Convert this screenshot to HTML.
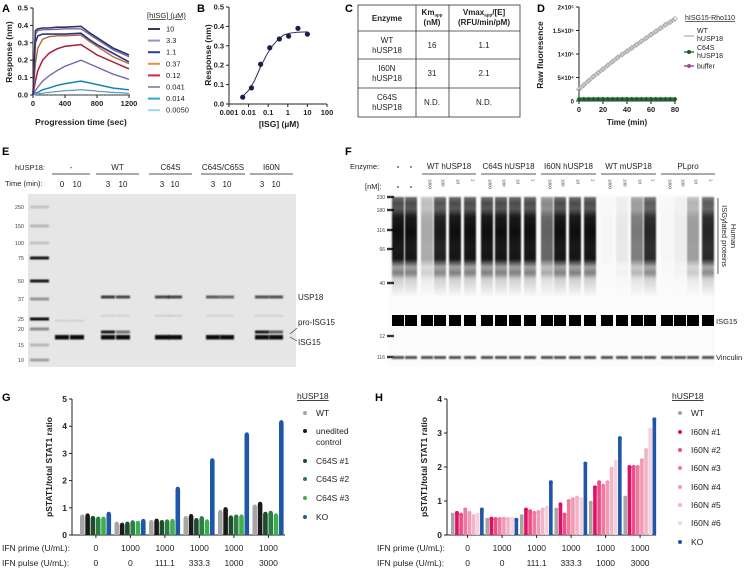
<!DOCTYPE html>
<html><head><meta charset="utf-8">
<style>
html,body{margin:0;padding:0;background:#fff;}
svg{display:block;font-family:"Liberation Sans",Arial,sans-serif;}
.t{font-size:7.5px;fill:#222;}
.b{font-weight:bold;}
.pl{font-size:11px;font-weight:bold;fill:#000;}
</style></head>
<body>
<svg id="fig" width="749" height="569" viewBox="0 0 749 569" xmlns="http://www.w3.org/2000/svg">
<defs>
<filter id="blur" x="-20%" y="-50%" width="140%" height="200%"><feGaussianBlur stdDeviation="0.8"/></filter>
<linearGradient id="smear" x1="0" y1="0" x2="0" y2="1">
<stop offset="0" stop-color="#000" stop-opacity="0.55"/>
<stop offset="0.06" stop-color="#000" stop-opacity="0.7"/>
<stop offset="0.12" stop-color="#000" stop-opacity="0.65"/>
<stop offset="0.2" stop-color="#000" stop-opacity="0.9"/>
<stop offset="0.35" stop-color="#000" stop-opacity="0.95"/>
<stop offset="0.5" stop-color="#000" stop-opacity="0.9"/>
<stop offset="0.62" stop-color="#000" stop-opacity="0.92"/>
<stop offset="0.7" stop-color="#000" stop-opacity="0.35"/>
<stop offset="0.76" stop-color="#000" stop-opacity="0.5"/>
<stop offset="0.82" stop-color="#000" stop-opacity="0.18"/>
<stop offset="1" stop-color="#000" stop-opacity="0.0"/>
</linearGradient>
</defs>

<text class="pl" x="2" y="12">A</text>
<text class="pl" x="197" y="12">B</text>
<text class="pl" x="345" y="12">C</text>
<text class="pl" x="537" y="12">D</text>
<text class="pl" x="2" y="155">E</text>
<text class="pl" x="345" y="155">F</text>
<text class="pl" x="2" y="401">G</text>
<text class="pl" x="375" y="401">H</text>

<g id="panelA"></g>
<g id="panelB"></g>

<g font-size="8">
<rect x="358" y="5" width="162" height="112" fill="none" stroke="#333" stroke-width="0.8"/>
<line x1="416" y1="5" x2="416" y2="117" stroke="#333" stroke-width="0.8"/>
<line x1="449" y1="5" x2="449" y2="117" stroke="#333" stroke-width="0.8"/>
<line x1="358" y1="31" x2="520" y2="31" stroke="#333" stroke-width="0.8"/>
<line x1="358" y1="59" x2="520" y2="59" stroke="#333" stroke-width="0.8"/>
<line x1="358" y1="88" x2="520" y2="88" stroke="#333" stroke-width="0.8"/>
<text x="387" y="21" text-anchor="middle" class="b" fill="#222">Enzyme</text>
<text x="432" y="15" text-anchor="middle" class="b" fill="#222">Km<tspan font-size="4.5" dy="1.5">app</tspan></text>
<text x="432" y="25" text-anchor="middle" class="b" fill="#222">(nM)</text>
<text x="484" y="15" text-anchor="middle" class="b" fill="#222">Vmax<tspan font-size="4.5" dy="1.5">app</tspan><tspan dy="-1.5">/[E]</tspan></text>
<text x="484" y="25" text-anchor="middle" class="b" fill="#222">(RFU/min/pM)</text>
<text x="387" y="43" text-anchor="middle" fill="#222">WT</text><text x="387" y="53" text-anchor="middle" fill="#222">hUSP18</text>
<text x="432" y="48" text-anchor="middle" fill="#222">16</text><text x="484" y="48" text-anchor="middle" fill="#222">1.1</text>
<text x="387" y="71" text-anchor="middle" fill="#222">I60N</text><text x="387" y="81" text-anchor="middle" fill="#222">hUSP18</text>
<text x="432" y="76" text-anchor="middle" fill="#222">31</text><text x="484" y="76" text-anchor="middle" fill="#222">2.1</text>
<text x="387" y="100" text-anchor="middle" fill="#222">C64S</text><text x="387" y="110" text-anchor="middle" fill="#222">hUSP18</text>
<text x="432" y="105" text-anchor="middle" fill="#222">N.D.</text><text x="484" y="105" text-anchor="middle" fill="#222">N.D.</text>
</g>

<g id="panelD"></g>

<g id="panelE">
<text class="t" x="15" y="170" font-size="8">hUSP18:</text>
<text class="t" x="5" y="186" font-size="8">Time (min):</text>
<rect x="28" y="194" width="268" height="173" fill="#e6e6e6"/>
</g>

<g id="panelF">
<text class="t" x="350" y="169" font-size="8">Enzyme:</text>
<text class="t" x="365" y="189" font-size="8">[nM]:</text>
<rect x="388" y="195" width="327" height="171" fill="#fbfbfb"/>
</g>

<g id="panelG"></g>
<g id="panelH"></g>
</svg>

<script>
var aTimes = [0,30,60,120,200,300,400,600,700,800,1000,1200];
var aConcLabels = ["10","3.3","1.1","0.37","0.12","0.041","0.014","0.0050"];
var aColors = ["#3b3566","#9a8fc8","#2b3f8f","#f08a4b","#d7263d","#a58cc4","#2aa7d8","#9fd6e8"];
var aS10 = [0,0.37,0.38,0.385,0.385,0.39,0.39,0.395,0.36,0.33,0.27,0.23];
var aS33 = [0,0.35,0.37,0.375,0.375,0.378,0.38,0.38,0.35,0.32,0.26,0.22];
var aS11 = [0,0.3,0.34,0.35,0.35,0.35,0.35,0.355,0.32,0.29,0.24,0.19];
var aS037 = [0,0.18,0.27,0.32,0.335,0.34,0.34,0.345,0.31,0.28,0.22,0.18];
var aS012 = [0,0.08,0.14,0.2,0.24,0.265,0.28,0.29,0.26,0.23,0.19,0.15];
var aS0041 = [0,0.025,0.045,0.08,0.11,0.14,0.165,0.2,0.18,0.16,0.12,0.09];
var aS0014 = [0,0.01,0.015,0.03,0.04,0.055,0.065,0.08,0.07,0.06,0.04,0.03];
var aS0005 = [0,0.003,0.006,0.01,0.015,0.02,0.025,0.03,0.027,0.022,0.015,0.01];
var aYTicks = [0,0.1,0.2,0.3,0.4,0.5];
var aXTicks = [0,400,800,1200];

var bConc = [0.005,0.014,0.041,0.12,0.37,1.1,3.3,10];
var bResp = [0.035,0.083,0.205,0.29,0.335,0.35,0.39,0.36];
var bFitX = [0.004,0.01,0.02,0.04,0.08,0.15,0.3,0.6,1.2,3,10];
var bFitY = [0.03,0.07,0.12,0.19,0.25,0.295,0.33,0.355,0.365,0.37,0.372];
var bXTicks = [0.001,0.01,0.1,1,10,100];
var bXTickLabels = ["0.001","0.01","0.1","1","10","100"];
var bYTicks = [0,0.1,0.2,0.3,0.4,0.5];

var dTimes = [0,4,8,12,16,20,24,28,32,36,40,44,48,52,56,60,64,68,72,76,80];
var dWT = [25000,34000,43000,52000,60000,68000,76000,84000,92000,99000,106000,113000,120000,127000,134000,141000,148000,155000,162000,168000,175000];
var dC64S = [4000,4000,4000,4000,4000,4000,4000,4000,4000,4000,4000,4000,4000,4000,4000,4000,4000,4000,4000,4000,4000];
var dBuffer = [3500,3500,3500,3500,3500,3500,3500,3500,3500,3500,3500,3500,3500,3500,3500,3500,3500,3500,3500,3500,3500];
var dYTicks = [0,50000,100000,150000,200000];
var dYTickLabels = ["0","5×10⁴","1×10⁵","1.5×10⁵","2×10⁵"];
var dXTicks = [0,20,40,60,80];

var gGroupsPrime = ["0","1000","1000","1000","1000","1000"];
var gGroupsPulse = ["0","0","111.1","333.3","1000","3000"];
var gSeriesNames = ["WT","unedited control","C64S #1","C64S #2","C64S #3","KO"];
var gColors = ["#a6a6a6","#1a1a1a","#1e4d2b","#2f7d46","#3db04d","#1f56a8"];
var gWT = [0.68,0.42,0.48,0.62,0.85,1.05];
var gUnedited = [0.72,0.38,0.53,0.7,0.95,1.15];
var gC1 = [0.63,0.42,0.48,0.55,0.65,0.78];
var gC2 = [0.6,0.47,0.5,0.62,0.68,0.82];
var gC3 = [0.6,0.45,0.52,0.5,0.68,0.72];
var gKO = [0.78,0.52,1.7,2.75,3.7,4.15];
var gYTicks = [0,1,2,3,4,5];

var hSeriesNames = ["WT","I60N #1","I60N #2","I60N #3","I60N #4","I60N #5","I60N #6","KO"];
var hColors = ["#a6a6a6","#e0106a","#ec4f86","#f07a9e","#f29ab5","#f2b5c8","#f5d3de","#1f56a8"];
var hWT = [0.6,0.45,0.55,0.75,0.95,1.1];
var h1 = [0.65,0.48,0.75,0.9,1.4,2.0];
var h2 = [0.6,0.47,0.7,0.6,1.55,2.0];
var h3 = [0.75,0.47,0.65,1.0,1.45,2.0];
var h4 = [0.65,0.48,0.68,1.05,1.55,2.2];
var h5 = [0.55,0.47,0.75,1.1,1.95,2.5];
var h6 = [0.6,0.48,0.8,1.05,2.15,3.1];
var hKO = [0.75,0.45,1.55,2.1,2.85,3.4];
var hYTicks = [0,1,2,3,4];

var eMarkers = ["250","150","100","75","50","37","25","20","15","10"];
var eMarkerY = [207,226,243,258,281,299,319,329,345,360];
var eMarkerDark = [0.15,0.2,0.15,0.9,0.9,0.35,0.95,0.4,0.2,0.3];
var eGroups = ["-","WT","C64S","C64S/C65S","I60N"];
var eTimes = ["0","10","3","10","3","10","3","10","3","10"];
var eUSP18 = [0,0,0.75,0.7,0.7,0.7,0.6,0.55,0.65,0.65];
var eISG15 = [0.95,0.95,0.95,0.95,0.95,0.95,0.95,0.95,0.95,0.95];
var ePro = [0,0,0.9,0.5,0,0,0,0,0.9,0.6];

var fGroups = ["WT hUSP18","C64S hUSP18","I60N hUSP18","WT mUSP18","PLpro"];
var fConcLabels = ["-","-","1000","100","10","1","1000","100","10","1","1000","100","10","1","1000","100","10","1","1000","100","10","1"];
var fSmear = [1,1,0.35,0.95,1,1,1,1,1,1,0.65,1,1,1,0.02,0.08,0.55,0.9,0.02,0.06,0.4,0.9];
var fMarkers = ["230","180","116","66","40","12","116"];
var fMarkerY = [197,210,230,249,283,336,357];

var NS = "http://www.w3.org/2000/svg";
function mk(tag, attrs, parent){ var e=document.createElementNS(NS,tag); for(var k in attrs) e.setAttribute(k,attrs[k]); parent.appendChild(e); return e; }
function txt(parent, x, y, s, size, anchor, extra){ var e=mk("text",{x:x,y:y,"font-size":size,"text-anchor":anchor||"start",fill:"#222"},parent); e.textContent=s; if(extra){for(var k in extra) e.setAttribute(k,extra[k]);} return e; }

(function(){
  var g=document.getElementById("panelA");
  function ax(t){return 33+t*96/1200;} function ay(v){return 95-v*174;}
  var l=mk("line",{x1:33,y1:ay(0.5),x2:33,y2:95,stroke:"#222","stroke-width":1},g);
   
  var l2=mk("line",{x1:33,y1:95,x2:130,y2:95,stroke:"#222","stroke-width":1},g);
   
  aYTicks.forEach(function(v){ mk("line",{x1:30,y1:ay(v),x2:33,y2:ay(v),stroke:"#222"},g); var t=txt(g,28,ay(v)+2.5,v.toFixed(1),7.5,"end",{"font-weight":"bold"});  });
  aXTicks.forEach(function(v){ mk("line",{x1:ax(v),y1:95,x2:ax(v),y2:98,stroke:"#222"},g); var t=txt(g,ax(v),106,String(v),7.5,"middle",{"font-weight":"bold"});  });
  var xt=txt(g,81,125,"Progression time (sec)",8.5,"middle",{"font-weight":"bold"});  
  var yt=txt(g,0,0,"Response (nm)",8.5,"middle",{"font-weight":"bold",transform:"translate(12,52) rotate(-90)"});  
  var base=mk("line",{x1:33,y1:95,x2:129,y2:95,stroke:"#555","stroke-dasharray":"1,1.5"},g);
   
  var series=[aS10,aS33,aS11,aS037,aS012,aS0041,aS0014,aS0005];
  for(var i=series.length-1;i>=0;i--){
    var pts=aTimes.map(function(t,j){return ax(t)+","+ay(series[i][j]);}).join(" ");
    var p=mk("polyline",{points:pts,fill:"none",stroke:aColors[i],"stroke-width":1.6},g);
     
    var f=mk("polyline",{points:pts,fill:"none",stroke:"#1c2a5a","stroke-width":0.5,"stroke-opacity":0.7},g);
     
  }
  var lt=txt(g,147,18,"[hISG] (µM)",7.5,"start",{"text-decoration":"underline"});  
  aConcLabels.forEach(function(s,i){ var y=29+i*11.6;
    var sw=mk("line",{x1:148,y1:y,x2:160,y2:y,stroke:aColors[i],"stroke-width":2},g);  
    var t=txt(g,166,y+2.5,s,7.5,"start");  });
})();

(function(){
  var g=document.getElementById("panelB");
  function bx(v){return 229+(Math.log10(v)+3)*19.6;} function by(v){return 104-v*194;}
  var l=mk("line",{x1:229,y1:by(0.5),x2:229,y2:104,stroke:"#222"},g);  
  var l2=mk("line",{x1:229,y1:104,x2:bx(100),y2:104,stroke:"#222"},g);  
  bYTicks.forEach(function(v){ mk("line",{x1:226,y1:by(v),x2:229,y2:by(v),stroke:"#222"},g); var t=txt(g,224,by(v)+2.5,v.toFixed(1),7.5,"end",{"font-weight":"bold"});  });
  bXTicks.forEach(function(v,i){ mk("line",{x1:bx(v),y1:104,x2:bx(v),y2:107,stroke:"#222"},g); var t=txt(g,bx(v),115,bXTickLabels[i],7.5,"middle",{"font-weight":"bold"});  });
  var xt=txt(g,279,127,"[ISG] (µM)",8.5,"middle",{"font-weight":"bold"});  
  var yt=txt(g,0,0,"Response (nm)",8.5,"middle",{"font-weight":"bold",transform:"translate(211,55) rotate(-90)"});  
  var fit=mk("polyline",{points:bFitX.map(function(x,i){return bx(x)+","+by(bFitY[i]);}).join(" "),fill:"none",stroke:"#2b2f5e","stroke-width":1},g);
   
  bConc.forEach(function(c,i){ var d=mk("circle",{cx:bx(c),cy:by(bResp[i]),r:2.6,fill:"#1c1f45"},g);  });
})();

(function(){
  var g=document.getElementById("panelD");
  function dx(t){return 579+t*1.2;} function dy(v){return 101-v*94/200000;}
  var l=mk("line",{x1:579,y1:7,x2:579,y2:101,stroke:"#222"},g);  
  var l2=mk("line",{x1:579,y1:101,x2:676,y2:101,stroke:"#222"},g);  
  dYTicks.forEach(function(v,i){ mk("line",{x1:576,y1:dy(v),x2:579,y2:dy(v),stroke:"#222"},g); var t=txt(g,574,dy(v)+2.5,dYTickLabels[i],6,"end",{"font-weight":"bold"});  });
  dXTicks.forEach(function(v){ mk("line",{x1:dx(v),y1:101,x2:dx(v),y2:104,stroke:"#222"},g); var t=txt(g,dx(v),112,String(v),7.5,"middle",{"font-weight":"bold"});  });
  var xt=txt(g,627,125,"Time (min)",8,"middle",{"font-weight":"bold"});  
  var yt=txt(g,0,0,"Raw fluoresence",8.5,"middle",{"font-weight":"bold",transform:"translate(543,55) rotate(-90)"});  
  var wl=mk("polyline",{points:dTimes.map(function(t,i){return dx(t)+","+dy(dWT[i]);}).join(" "),fill:"none",stroke:"#c8c8c8","stroke-width":4},g);
   
  dTimes.forEach(function(t,i){ var m=mk("path",{d:"M"+(dx(t)-2.5)+","+dy(dWT[i])+" l2.5,-2.5 l2.5,2.5 l-2.5,2.5z",fill:"none",stroke:"#9a9a9a","stroke-width":0.6},g);  });
  var bl=mk("polyline",{points:dTimes.map(function(t,i){return dx(t)+","+dy(dBuffer[i]);}).join(" "),fill:"none",stroke:"#9c4f96","stroke-width":2},g);
   
  var cl=mk("polyline",{points:dTimes.map(function(t,i){return dx(t)+","+dy(dC64S[i]);}).join(" "),fill:"none",stroke:"#2e7d3b","stroke-width":3.5},g);
   
  dTimes.forEach(function(t,i){ var m=mk("path",{d:"M"+(dx(t)-2.5)+","+dy(dC64S[i])+" l2.5,-2.5 l2.5,2.5 l-2.5,2.5z",fill:"#1e5a2a"},g);  });
  var lt=txt(g,685,20,"hISG15-Rho110",7,"start",{"text-decoration":"underline"});  
  var e1=mk("line",{x1:684,y1:36,x2:694,y2:36,stroke:"#bbb","stroke-width":1.5},g);  
  var t1=txt(g,697,33,"WT",7);   txt(g,697,41,"hUSP18",7);
  var e2=mk("line",{x1:684,y1:52,x2:694,y2:52,stroke:"#2e7d3b","stroke-width":1.5},g);  
  mk("circle",{cx:689,cy:52,r:2,fill:"#1e5a2a"},g);
  var t2=txt(g,697,50,"C64S",7);   txt(g,697,58,"hUSP18",7);
  var e3=mk("line",{x1:684,y1:66,x2:694,y2:66,stroke:"#9c4f96","stroke-width":1.5},g);  
  mk("circle",{cx:689,cy:66,r:2,fill:"#9c4f96"},g);
  var t3=txt(g,697,68.5,"buffer",7);  
})();

(function(){
  var g=document.getElementById("panelE");
  var laneX=[62,77,108,123,162,175,213,227,262,276];
  var groupX=[[52,90],[96,139],[149,192],[201,245],[250,293]];
  eGroups.forEach(function(s,i){ var c=(groupX[i][0]+groupX[i][1])/2;
    var t=txt(g,c,170,s,8,"middle");  
    var u=mk("line",{x1:groupX[i][0],y1:174,x2:groupX[i][1],y2:174,stroke:"#555","stroke-width":1},g);  });
  eTimes.forEach(function(s,i){ var t=txt(g,laneX[i],187,s,8,"middle");  });
  eMarkers.forEach(function(s,i){ var t=txt(g,24,eMarkerY[i]+2,s,5.5,"end",{fill:"#444"});  
    var b=mk("rect",{x:30,y:eMarkerY[i]-1.5,width:19,height:3,fill:"#000","fill-opacity":eMarkerDark[i],filter:"url(#blur)"},g);  });
  laneX.forEach(function(x,i){
    var b=mk("rect",{x:x-7,y:335,width:14,height:4.5,fill:"#000","fill-opacity":eISG15[i],filter:"url(#blur)"},g);  
    if(ePro[i]>0){var p=mk("rect",{x:x-7,y:330.5,width:14,height:3,fill:"#000","fill-opacity":ePro[i],filter:"url(#blur)"},g);  }
    if(eUSP18[i]>0){var u=mk("rect",{x:x-7,y:295.5,width:14,height:3,fill:"#000","fill-opacity":eUSP18[i],filter:"url(#blur)"},g);  
      mk("rect",{x:x-7,y:315,width:14,height:1.5,fill:"#000","fill-opacity":0.12,filter:"url(#blur)"},g);}
    else {mk("rect",{x:x-7,y:320,width:14,height:1.5,fill:"#000","fill-opacity":0.12,filter:"url(#blur)"},g);}
  });
  var a=txt(g,298,300,"USP18",8);  
  var b=txt(g,298,325,"pro-ISG15",8);  
  var c=txt(g,298,345,"ISG15",8);  
  mk("line",{x1:290,y1:334,x2:297,y2:328,stroke:"#333","stroke-width":0.6},g);
  mk("line",{x1:290,y1:337,x2:297,y2:341,stroke:"#333","stroke-width":0.6},g);
})();

(function(){
  var g=document.getElementById("panelF");
  var laneX=[398,411,427,440,455,470,487,501,515,530,547,560,575,590,607,622,637,650,667,680,693,708];
  var groupSpan=[[422,476],[481,536],[541,596],[601,656],[661,715]];
  fGroups.forEach(function(s,i){ var c=(groupSpan[i][0]+groupSpan[i][1])/2;
    var t=txt(g,c,169,s,8,"middle");  
    var u=mk("line",{x1:groupSpan[i][0],y1:174,x2:groupSpan[i][1],y2:174,stroke:"#555"},g);  });
  fConcLabels.forEach(function(s,i){ var t;
    if(s==="-"){ t=txt(g,laneX[i],189,s,8,"middle",{"font-weight":"bold"}); var t2=txt(g,laneX[i],169,"-",8,"middle",{"font-weight":"bold"});   }
    else { t=txt(g,0,0,s,4.5,"start",{transform:"translate("+(laneX[i]+1.5)+",179) rotate(90)",fill:"#444"}); }
     });
  fMarkers.forEach(function(s,i){ var t=txt(g,385,fMarkerY[i]+2,s,5,"end",{fill:"#444"});  
    var b=mk("rect",{x:387,y:fMarkerY[i]-1.2,width:7,height:2.4,fill:"#333"},g);  });
  laneX.forEach(function(x,i){
    var s=mk("rect",{x:x-6,y:197,width:12,height:100,fill:"url(#smear)","fill-opacity":fSmear[i],filter:"url(#blur)"},g);  
    var b=mk("rect",{x:x-6,y:315,width:12,height:11,fill:"#000"},g);  
    var v=mk("rect",{x:x-6,y:356,width:12,height:3,fill:"#555",filter:"url(#blur)"},g);  
  });
  var br=mk("line",{x1:718,y1:198,x2:718,y2:274,stroke:"#333","stroke-width":0.8},g);  
  var h1=txt(g,0,0,"Human",7.5,"middle",{transform:"translate(731,236) rotate(90)"});  
  var h2=txt(g,0,0,"ISGylated proteins",7.5,"middle",{transform:"translate(722,236) rotate(90)"});  
  var a=txt(g,716,324,"ISG15",7.5);  
  var c=txt(g,716,360,"Vinculin",7.5);  
})();

function barChart(gid, axisX, ppu, yTicks, series, colors, names, startX, groupStep, barW, barGap, legendX, legendYs, prefix){
  var g=document.getElementById(gid);
  function y(v){return 535-v*ppu;}
  var top=y(yTicks[yTicks.length-1]);
  var ya=mk("line",{x1:axisX,y1:top,x2:axisX,y2:535,stroke:"#222","stroke-width":1},g);  
  var xa=mk("line",{x1:axisX,y1:535,x2:startX+groupStep*6-2,y2:535,stroke:"#222","stroke-width":1},g);  
  yTicks.forEach(function(v){ mk("line",{x1:axisX-3,y1:y(v),x2:axisX,y2:y(v),stroke:"#222"},g); var t=txt(g,axisX-5,y(v)+3,String(v),8.5,"end",{"font-weight":"bold"});  });
  var yt=txt(g,0,0,"pSTAT1/total STAT1 ratio",8.5,"middle",{"font-weight":"bold",transform:"translate("+(axisX-20)+",467) rotate(-90)"});  
  var n=series.length;
  for(var gi=0;gi<6;gi++){
    var gx=startX+gi*groupStep;
    for(var si=0;si<n;si++){
      var v=series[si][gi]; var x=gx+si*(barW+barGap);
      var r=mk("rect",{x:x,y:y(v),width:barW,height:535-y(v),fill:colors[si]},g);
       
      var d=mk("circle",{cx:x+barW/2,cy:y(v),r:2,fill:colors[si]},g);
       
    }
    var cx=gx+(n*(barW+barGap))/2;
    mk("line",{x1:cx,y1:535,x2:cx,y2:538,stroke:"#222"},g);
    var p=txt(g,cx,551,gGroupsPrime[gi],8.5,"middle");  
    var q=txt(g,cx,566,gGroupsPulse[gi],8.5,"middle");  
  }
  var pr=txt(g,axisX-70,551,"IFN prime (U/mL):",8.5);  
  var pu=txt(g,axisX-70,566,"IFN pulse (U/mL):",8.5);  
  var lt=txt(g,legendX-6,399,"hUSP18",8.5,"start",{"text-decoration":"underline"});  
  names.forEach(function(s,i){ var yy=legendYs[i];
    var d=mk("circle",{cx:legendX+2,cy:yy-3,r:2,fill:colors[i]},g);  
    if(s==="unedited control"){ var t=txt(g,legendX+13,yy,"unedited",8.5);   txt(g,legendX+13,yy+11,"control",8.5); }
    else { var t2=txt(g,legendX+13,yy,s,8.5);   }
  });
}
barChart("panelG",72,27.2,gYTicks,[gWT,gUnedited,gC1,gC2,gC3,gKO],gColors,gSeriesNames,80,34.5,4.6,0.7,303,[416,434,464,482,501,520],"g");
barChart("panelH",447,34,hYTicks,[hWT,h1,h2,h3,h4,h5,h6,hKO],hColors,hSeriesNames,451,34.5,3.6,0.55,678,[416,435,453,471,490,508,526,545],"h");
</script>
</body></html>
